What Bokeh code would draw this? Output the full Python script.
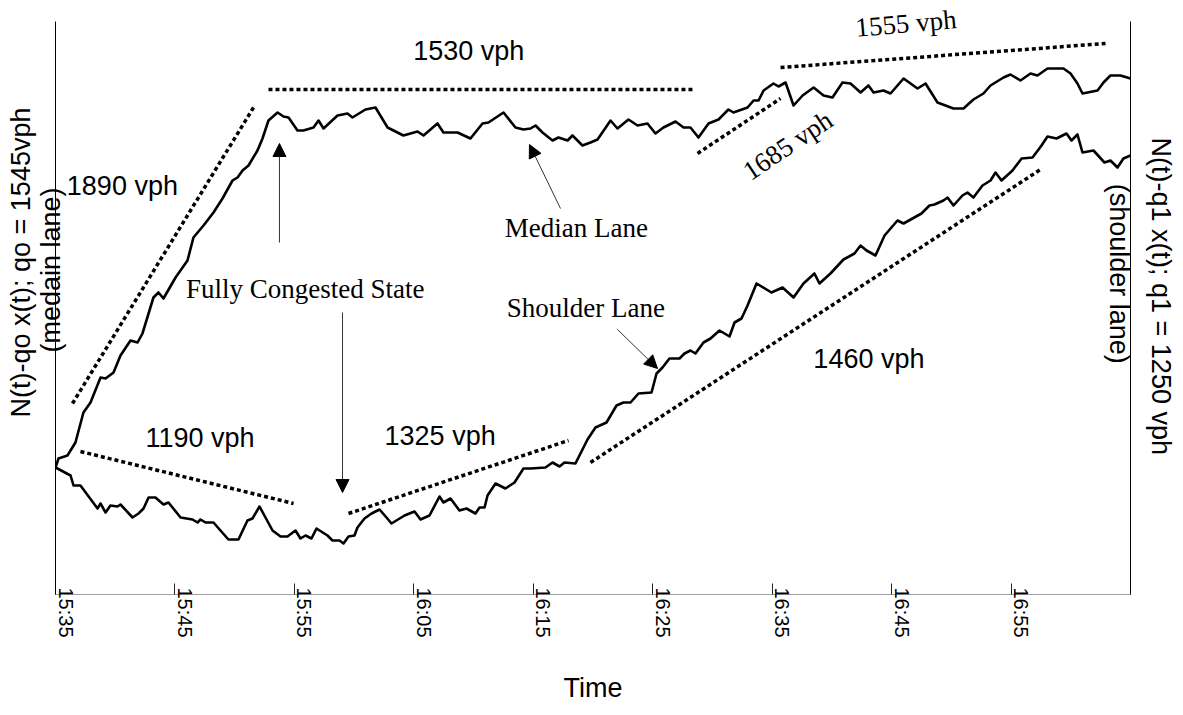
from bokeh.plotting import figure
from bokeh.models import (ColumnDataSource, Range1d, LinearAxis, FixedTicker,
                          Label, Arrow, NormalHead, CustomJSTickFormatter)
from bokeh.embed import file_html
from bokeh.resources import INLINE

# ---------------- data (minutes after 15:35, relative cumulative count) -------------
median_min = [0.0, 0.25, 1.0, 1.67, 2.34, 2.93, 3.77, 4.19, 4.86, 5.44,
              6.28, 6.87, 7.28, 8.2, 8.62, 9.04, 10.05, 11.05, 11.55, 12.39,
              13.23, 13.98, 14.82, 15.24, 15.66, 16.16, 16.91, 17.33, 17.83, 18.59,
              19.09, 19.51, 20.26, 20.76, 21.6, 22.02, 22.44, 23.61, 24.45, 24.86,
              25.95, 26.79, 27.8, 29.13, 30.31, 30.81, 31.98, 32.48, 33.66, 34.74,
              35.75, 36.25, 37.51, 38.51, 39.18, 39.77, 40.19, 40.77, 41.61, 42.11,
              42.87, 43.28, 44.12, 44.79, 45.38, 46.47, 47.05, 47.97, 48.73, 49.56,
              50.23, 50.9, 51.91, 52.58, 53.16, 53.83, 54.67, 55.51, 56.34, 56.76,
              57.94, 58.44, 58.86, 59.28, 60.11, 60.53, 61.12, 61.79, 62.55, 63.47,
              64.3, 65.05, 65.89, 66.56, 67.4, 68.06, 68.49, 69.32, 69.91, 71.0,
              72.17, 72.84, 73.84, 75.18, 76.02, 76.85, 77.69, 78.28, 79.37, 79.95,
              80.79, 81.63, 82.21, 83.05, 84.39, 84.98, 85.56, 85.98, 86.4, 87.24,
              87.74, 88.32, 89.16, 90.0]
median_cum = [127, 136, 139, 152, 182, 192, 217, 216, 222, 239,
              254, 252, 261, 297, 302, 296, 317, 334, 357, 369,
              382, 396, 414, 417, 424, 429, 444, 456, 474, 482,
              478, 477, 464, 464, 467, 474, 466, 479, 481, 477,
              485, 487, 467, 459, 463, 459, 471, 462, 462, 456,
              471, 472, 482, 467, 465, 466, 469, 462, 454, 457,
              454, 459, 449, 452, 455, 474, 466, 475, 469, 471,
              461, 467, 473, 467, 467, 457, 471, 475, 485, 482,
              487, 494, 494, 504, 511, 508, 512, 489, 499, 507,
              499, 497, 512, 511, 502, 509, 502, 504, 501, 516,
              506, 511, 492, 486, 486, 495, 501, 509, 517, 520,
              514, 521, 519, 526, 526, 521, 511, 501, 502, 504,
              512, 519, 519, 516]

shoulder_min = [0.0, 1.26, 1.51, 2.09, 3.52, 3.77, 4.19, 4.6, 5.19, 5.44,
                6.45, 6.95, 7.37, 7.79, 8.37, 9.04, 9.46, 10.47, 11.47, 11.89,
                12.14, 12.56, 13.23, 13.81, 14.48, 15.32, 16.07, 16.49, 17.08, 17.58,
                18.17, 18.84, 19.42, 20.09, 20.51, 20.93, 21.43, 21.85, 22.77, 23.19,
                23.78, 24.11, 24.53, 25.03, 25.28, 25.87, 26.46, 27.13, 27.71, 28.13,
                29.22, 30.06, 30.56, 31.31, 32.15, 32.48, 33.07, 33.82, 34.41, 35.16,
                35.5, 35.92, 36.17, 36.84, 37.67, 38.43, 39.18, 39.77, 41.02, 41.61,
                42.2, 42.61, 43.53, 44.54, 45.21, 46.13, 46.97, 47.55, 48.14, 48.81,
                49.9, 50.32, 50.82, 51.4, 52.24, 52.66, 53.16, 53.58, 54.25, 54.84,
                55.59, 56.43, 56.85, 57.43, 57.94, 58.69, 59.94, 60.87, 61.79, 62.62,
                63.54, 63.96, 64.88, 65.97, 66.89, 67.4, 67.9, 68.65, 69.41, 70.49,
                71.0, 71.75, 72.5, 73.17, 73.59, 74.34, 74.68, 75.18, 75.93, 76.35,
                76.85, 77.61, 78.28, 78.7, 79.2, 80.12, 80.88, 81.8, 82.55, 83.05,
                83.81, 84.64, 85.06, 85.56, 85.98, 86.9, 87.82, 88.32, 88.91, 89.41,
                90.0]
shoulder_cum = [127, 119, 109, 109, 86, 91, 82, 89, 88, 90,
                77, 81, 86, 97, 97, 90, 92, 77, 75, 72,
                75, 72, 72, 64, 55, 55, 74, 76, 88, 77,
                64, 58, 58, 64, 56, 59, 56, 66, 59, 54,
                54, 51, 58, 59, 67, 76, 81, 85, 77, 71,
                79, 83, 75, 79, 98, 92, 96, 84, 86, 81,
                87, 87, 99, 111, 106, 112, 126, 126, 127, 132,
                128, 132, 131, 155, 167, 172, 189, 192, 192, 201,
                202, 221, 227, 236, 236, 241, 244, 241, 252, 256,
                264, 258, 272, 276, 289, 311, 302, 307, 297, 311,
                321, 311, 321, 335, 341, 349, 344, 339, 359, 374,
                371, 376, 381, 389, 390, 394, 397, 389, 399, 402,
                397, 409, 414, 422, 414, 424, 436, 437, 449, 458,
                456, 461, 454, 460, 442, 444, 432, 434, 427, 436,
                439]

trend_rate = ["1890 vph", "1530 vph", "1190 vph", "1325 vph", "1460 vph", "1685 vph", "1555 vph"]
trend_start_min = [1.42, 17.83, 2.09, 24.53, 44.79, 53.75, 60.70]
trend_start_cum = [191, 505, 143, 81, 132, 441, 527]
trend_end_min = [16.58, 53.33, 19.93, 42.95, 82.47, 60.70, 87.91]
trend_end_cum = [487, 505, 91, 154, 425, 496, 551]

tick_minutes = [0, 10, 20, 30, 40, 50, 60, 70, 80]
tick_labels = ["15:35", "15:45", "15:55", "16:05", "16:15", "16:25", "16:35", "16:45", "16:55"]

left_title = ["N(t)-qo x(t); qo = 1545vph", "(medain lane)"]
right_title = ["N(t)-q1 x(t); q1 = 1250 vph", "(shoulder lane)"]

TIME_MAX = 90
CUM_TOP = 573

# ---------------- figure -------------------------------------------------------------
p = figure(width=1180, height=712, x_range=Range1d(0, TIME_MAX), y_range=Range1d(0, 589),
           x_axis_type=None, y_axis_type=None, toolbar_location=None,
           output_backend="svg", min_border_left=55, min_border_right=50,
           min_border_top=5, min_border_bottom=118)
p.outline_line_color = None
p.background_fill_color = "white"
p.border_fill_color = "white"
p.extra_x_ranges = {"lab": Range1d(-0.84, TIME_MAX - 0.84)}

NB = "\u00a0"

left_axis = LinearAxis(ticker=FixedTicker(ticks=[]), bounds=(0, CUM_TOP),
                       axis_line_color="black", major_tick_in=0, major_tick_out=0,
                       major_tick_line_color=None, minor_tick_line_color=None,
                       major_label_standoff=0,
                       axis_label=NB * 10 + left_title[0] + "\n" + NB * 8 + left_title[1],
                       axis_label_text_font="Liberation Sans",
                       axis_label_text_font_size="27px",
                       axis_label_text_font_style="normal",
                       axis_label_text_color="black",
                       axis_label_text_line_height=1.0,
                       axis_label_standoff=-10)
p.add_layout(left_axis, "left")

right_axis = LinearAxis(ticker=FixedTicker(ticks=[]), bounds=(0, CUM_TOP),
                        axis_line_color="black", major_tick_in=0, major_tick_out=0,
                        major_tick_line_color=None, minor_tick_line_color=None,
                        major_label_standoff=0,
                        axis_label=right_title[0] + NB * 1 + "\n" + right_title[1] + NB * 7,
                        axis_label_text_font="Liberation Sans",
                        axis_label_text_font_size="27px",
                        axis_label_text_font_style="normal",
                        axis_label_text_color="black",
                        axis_label_text_line_height=1.42,
                        axis_label_standoff=-27)
p.add_layout(right_axis, "right")

tick_axis = LinearAxis(ticker=FixedTicker(ticks=tick_minutes), axis_line_color="#a0a0a0",
                       major_tick_in=11, major_tick_out=0, major_tick_line_color="#222222",
                       minor_tick_line_color=None,
                       formatter=CustomJSTickFormatter(code="return ''"),
                       major_label_standoff=0)
p.add_layout(tick_axis, "below")

label_axis = LinearAxis(x_range_name="lab", ticker=FixedTicker(ticks=tick_minutes),
                        major_label_overrides={m: t for m, t in zip(tick_minutes, tick_labels)},
                        axis_line_color=None, major_tick_line_color=None,
                        major_tick_in=0, major_tick_out=0,
                        minor_tick_line_color=None, major_label_orientation="vertical",
                        major_label_text_font="Liberation Sans",
                        major_label_text_font_size="20px", major_label_text_color="black",
                        major_label_standoff=-7, axis_label="Time",
                        axis_label_text_font="Liberation Sans",
                        axis_label_text_font_size="27px",
                        axis_label_text_font_style="normal",
                        axis_label_text_color="black", axis_label_standoff=32)
p.add_layout(label_axis, "below")

# ---------------- curves -------------------------------------------------------------
p.line(median_min, median_cum, line_color="black", line_width=2.6, line_join="round")
p.line(shoulder_min, shoulder_cum, line_color="black", line_width=2.6, line_join="round")

trend_src = ColumnDataSource(dict(x0=trend_start_min, y0=trend_start_cum,
                                  x1=trend_end_min, y1=trend_end_cum, rate=trend_rate))
p.segment("x0", "y0", "x1", "y1", source=trend_src, line_color="black",
          line_width=3.5, line_dash="4 3", line_cap="butt")

# ---------------- annotations --------------------------------------------------------
sans = "Liberation Sans"
serif = "Liberation Serif"

def add_label(x, y, text, font, size="27px", angle=0.0):
    p.add_layout(Label(x=x, y=y, text=text, text_font=font, text_font_size=size,
                       text_align="center", text_baseline="middle", angle=angle,
                       text_color="black"))

add_label(5.6, 409, trend_rate[0], sans)
add_label(34.6, 544, trend_rate[1], sans)
add_label(12.1, 157, trend_rate[2], sans)
add_label(32.2, 159, trend_rate[3], sans)
add_label(68.1, 236, trend_rate[4], sans)
add_label(61.3, 449, trend_rate[5], serif, angle=0.59)
add_label(71.2, 571, trend_rate[6], serif, angle=0.087)

add_label(20.9, 306, "Fully Congested State", serif)
add_label(43.6, 367, "Median Lane", serif)
add_label(44.4, 287, "Shoulder Lane", serif)

for xs, ys, xe, ye in [(18.75, 352, 18.75, 451), (24.03, 282, 24.03, 102),
                       (42.28, 386, 39.68, 450), (47.05, 265, 50.40, 226)]:
    p.add_layout(Arrow(end=NormalHead(size=13, fill_color="black", line_color="black"),
                       x_start=xs, y_start=ys, x_end=xe, y_end=ye,
                       line_color="#333333", line_width=1))

open("out.html", "w").write(file_html(p, INLINE))
